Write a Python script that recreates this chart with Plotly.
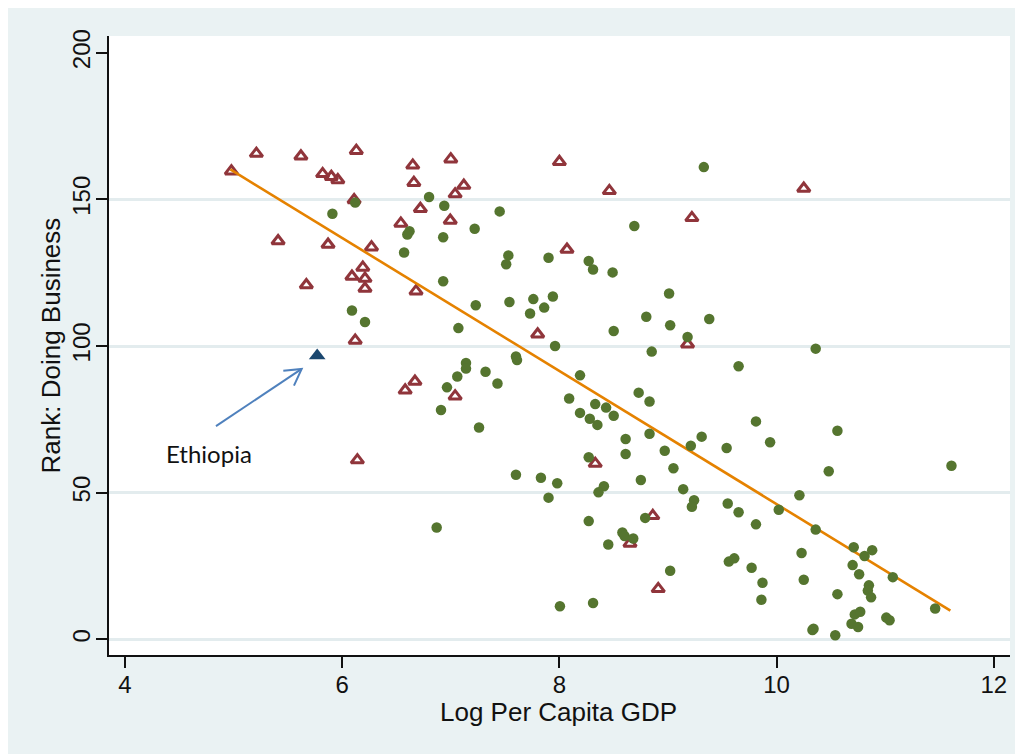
import plotly.graph_objects as go

# ---------------- data ----------------
# Countries with filled green circles
circ_x = [6.80, 6.12, 5.91, 6.94, 7.45, 7.22, 6.62, 6.60, 6.93, 6.57, 6.93, 7.23, 7.07, 6.09, 6.21,
          9.33, 8.69, 7.53, 7.51, 7.90, 8.27, 8.31, 8.49, 9.01, 7.54, 7.76, 7.94, 7.73, 7.86, 8.80,
          8.50, 9.02, 9.38, 9.18, 7.96, 8.85, 9.65, 7.60, 7.61, 7.14, 7.14, 7.32, 7.06, 8.19,
          10.36, 6.965, 7.43, 6.91, 7.26, 6.87,
          8.09, 8.73, 8.83, 8.33, 8.43, 8.19, 8.28, 8.35, 8.50, 9.81, 9.94, 8.61, 8.83, 9.31, 9.21,
          9.54, 8.61, 8.97, 8.27, 7.60, 7.83, 7.98, 7.90, 9.05, 8.75, 8.41, 8.36, 9.14, 9.24, 9.22,
          9.55, 9.65, 9.81, 10.02, 8.79, 8.27, 8.58, 8.60, 8.68, 8.45, 9.02, 9.56, 9.61, 9.77, 9.87,
          9.86, 8.005, 8.31,
          10.56, 10.48, 11.61, 10.21, 10.36, 10.23, 10.71, 10.88, 10.81, 10.70, 10.76, 11.07, 10.25,
          10.56, 10.85, 10.84, 10.87, 11.46, 10.72, 10.77, 10.69, 10.75, 11.01, 11.04, 10.33, 10.34, 10.54]
circ_y = [150.8, 148.9, 145.1, 147.8, 145.9, 140.0, 139.1, 138.0, 137.1, 131.9, 122.1, 113.9, 106.1, 112.1, 108.2,
          161.0, 140.9, 130.9, 127.9, 130.1, 129.0, 126.1, 125.1, 117.9, 115.0, 116.0, 116.9, 111.1, 113.1, 110.0,
          105.1, 107.1, 109.2, 103.1, 100.0, 98.1, 93.1, 96.4, 95.2, 94.2, 92.3, 91.2, 89.6, 90.0,
          99.1, 85.9, 87.2, 78.2, 72.2, 38.1,
          82.1, 84.1, 81.1, 80.2, 79.0, 77.2, 75.2, 73.1, 76.2, 74.3, 67.2, 68.3, 70.1, 69.1, 66.0,
          65.2, 63.2, 64.3, 62.1, 56.1, 55.1, 53.2, 48.3, 58.3, 54.3, 52.2, 50.1, 51.2, 47.4, 45.2,
          46.3, 43.3, 39.2, 44.2, 41.4, 40.3, 36.4, 35.2, 34.4, 32.3, 23.4, 26.5, 27.6, 24.4, 19.3,
          13.5, 11.3, 12.4,
          71.1, 57.3, 59.2, 49.1, 37.4, 29.4, 31.4, 30.4, 28.4, 25.3, 22.2, 21.2, 20.3,
          15.4, 18.4, 16.6, 14.3, 10.5, 8.5, 9.4, 5.3, 4.2, 7.4, 6.5, 3.2, 3.6, 1.4]

# Countries with hollow red triangles
tri_x = [4.98, 5.21, 5.62, 6.13, 5.82, 5.90, 5.96, 6.65, 7.00, 6.66, 7.12, 7.04, 6.11, 6.72,
         6.995, 6.54, 5.41, 5.87, 6.27, 6.19, 6.09, 6.21, 6.21, 6.68, 5.67, 6.12, 8.00, 8.46,
         9.22, 8.07, 7.80, 9.18, 10.25, 6.14, 6.58, 6.67, 7.04, 8.33, 8.86, 8.65, 8.91]
tri_y = [159.6, 165.6, 164.7, 166.6, 158.7, 157.7, 156.6, 161.6, 163.7, 155.7, 154.7, 151.8, 149.8, 146.8,
         142.8, 141.8, 135.8, 134.6, 133.7, 126.8, 123.7, 123.0, 119.6, 118.7, 120.8, 101.9, 162.8, 152.9,
         143.7, 132.9, 104.0, 100.6, 153.7, 61.1, 84.9, 87.9, 82.9, 59.9, 42.1, 32.7, 17.2]

# Highlighted country
eth_x = [5.77]
eth_y = [96.7]
eth_label = "Ethiopia"

# Fitted line end points
fit_x = [4.97, 11.60]
fit_y = [160.2, 9.8]

x_ticks = [4, 6, 8, 10, 12]
y_ticks = [0, 50, 100, 150, 200]
y_grid = [0, 50, 100, 150]
x_title = "Log Per Capita GDP"
y_title = "Rank: Doing Business"

# ---------------- styling ----------------
GREEN = "#55752F"
RED = "#90353B"
NAVY = "#1A476F"
ORANGE = "#E58200"
ARROW = "#4F81BD"
BG = "#EAF2F3"
GRID = "#E3ECEE"
FONT = "Liberation Sans, Arial, sans-serif"

fig = go.Figure()
fig.add_trace(go.Scatter(x=tri_x, y=tri_y, mode="markers",
                         marker=dict(symbol="triangle-up-open", size=11, color=RED,
                                     line=dict(width=3, color=RED)),
                         showlegend=False, hoverinfo="skip"))
fig.add_trace(go.Scatter(x=fit_x, y=fit_y, mode="lines",
                         line=dict(color=ORANGE, width=2.6),
                         showlegend=False, hoverinfo="skip"))
fig.add_trace(go.Scatter(x=circ_x, y=circ_y, mode="markers",
                         marker=dict(symbol="circle", size=10.5, color=GREEN, line=dict(width=0)),
                         showlegend=False, hoverinfo="skip"))
fig.add_trace(go.Scatter(x=eth_x, y=eth_y, mode="markers",
                         marker=dict(symbol="triangle-up", size=14.5, color=NAVY, line=dict(width=0)),
                         showlegend=False, hoverinfo="skip"))

# arrow (annotation pointer, open V head)
tail = (4.838, 72.7)
tip = (5.627, 92.2)
h1 = (5.458, 91.6)
h2 = (5.556, 86.5)
shapes = [
    dict(type="line", xref="x", yref="y", x0=tail[0], y0=tail[1], x1=tip[0], y1=tip[1],
         line=dict(color=ARROW, width=2)),
    dict(type="path", xref="x", yref="y",
         path=f"M {h1[0]},{h1[1]} L {tip[0]},{tip[1]} L {h2[0]},{h2[1]}",
         line=dict(color=ARROW, width=2)),
]

annotations = [
    dict(text=eth_label, x=4.773, y=63.3, xref="x", yref="y", showarrow=False,
         xanchor="center", yanchor="middle", font=dict(family="Lato, Open Sans, sans-serif", size=24, color="#111")),
    dict(text=x_title, x=0.4989, y=-0.092, xref="paper", yref="paper", showarrow=False,
         xanchor="center", yanchor="middle", font=dict(family=FONT, size=26, color="#111")),
    dict(text=y_title, x=-0.0644, y=0.5, xref="paper", yref="paper", showarrow=False, textangle=-90,
         xanchor="center", yanchor="middle", font=dict(family=FONT, size=26, color="#111")),
]

fig.update_layout(
    width=1023, height=754,
    margin=dict(l=101, r=21, t=28, b=107, autoexpand=False),
    paper_bgcolor=BG, plot_bgcolor="white",
    shapes=shapes, annotations=annotations,
    showlegend=False,
    xaxis=dict(range=[3.853, 12.149], tickmode="array", tickvals=x_ticks,
               ticktext=[str(v) for v in x_ticks], automargin=False,
               ticks="outside", ticklen=11, tickwidth=1.5, tickcolor="#111",
               showline=True, linecolor="#111", linewidth=1.5,
               showgrid=False, zeroline=False, ticklabelstandoff=-4,
               tickfont=dict(family=FONT, size=24, color="#111")),
    yaxis=dict(range=[-5.35, 205.7], tickmode="array", tickvals=y_ticks,
               ticktext=[str(v) for v in y_ticks], tickangle=-90, automargin=False,
               ticks="outside", ticklen=11, tickwidth=1.5, tickcolor="#111",
               showline=True, linecolor="#111", linewidth=1.5,
               showgrid=False, zeroline=False, ticklabelstandoff=-3,
               minor=dict(tickmode="array", tickvals=y_grid, showgrid=True,
                          gridcolor=GRID, gridwidth=2.5, ticks=""),
               tickfont=dict(family=FONT, size=24, color="#111")),
)

fig.write_html("out.html")
